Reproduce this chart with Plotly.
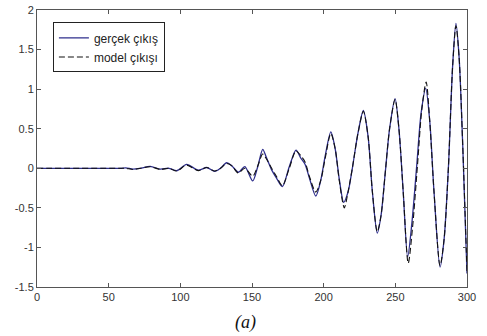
import plotly.graph_objects as go

# sample index (x) and outputs
x_real = [0, 58, 62, 67, 72, 79, 86, 92, 97.5, 104.4, 112.5, 118.4, 124, 128, 132.3, 136, 140.5, 145,
          150.5, 154, 157.5, 160, 163.7, 167, 171.2, 176, 180.7, 184, 187, 190, 194.5, 198, 201, 205,
          208, 211, 214, 217, 220, 224, 227.7, 231, 234, 237.4, 240, 243, 246, 249.8, 252.5, 255.5,
          258.6, 261.5, 265, 268, 271.2, 274, 277, 281.2, 284, 287, 290, 292.3, 294.5, 297, 300]
y_real = [0, 0, 0.005, -0.01, 0.0, 0.025, -0.01, 0.0, -0.03, 0.05, -0.025, 0.01, -0.04, 0.0, 0.07, 0.03, -0.05, 0.02,
          -0.16, 0.02, 0.24, 0.14, -0.02, -0.12, -0.23, 0.02, 0.23, 0.13, 0.05, -0.12, -0.35, -0.15, 0.15, 0.46,
          0.25, -0.15, -0.43, -0.3, 0.0, 0.45, 0.73, 0.4, -0.3, -0.82, -0.6, -0.05, 0.5, 0.88, 0.5, -0.3,
          -1.12, -0.7, 0.05, 0.7, 1.01, 0.6, -0.3, -1.25, -0.9, 0.0, 1.3, 1.83, 1.4, 0.3, -1.33]

x_model = [0, 58, 62, 67, 72, 79, 86, 92, 97.5, 104.4, 112.5, 118.4, 124, 128, 132.3, 136, 140.5, 145,
           150.5, 154, 157.5, 160, 163.7, 167, 171.2, 176, 180.7, 184, 187, 190, 194.5, 198, 201, 205,
           208, 211, 214.4, 217, 220, 224, 227.7, 231, 234, 237.4, 240, 243, 246, 249.8, 252.5, 255.5,
           259, 262, 265.5, 268.5, 271.5, 274, 277, 281.2, 284, 287, 290, 292.3, 294.5, 297, 300]
y_model = [0, 0, 0.0, -0.015, 0.0, 0.02, -0.015, 0.0, -0.035, 0.04, -0.03, 0.01, -0.035, 0.0, 0.06, 0.03, -0.06, 0.0,
           -0.1, 0.03, 0.18, 0.12, 0.0, -0.1, -0.22, 0.0, 0.22, 0.16, 0.08, -0.1, -0.3, -0.15, 0.12, 0.44,
           0.25, -0.17, -0.5, -0.3, 0.0, 0.45, 0.72, 0.4, -0.3, -0.8, -0.6, -0.05, 0.5, 0.87, 0.5, -0.3,
           -1.2, -0.75, 0.05, 0.75, 1.09, 0.6, -0.3, -1.23, -0.9, 0.0, 1.3, 1.8, 1.4, 0.3, -1.3]

x_ticks = [0, 50, 100, 150, 200, 250, 300]
y_ticks = [-1.5, -1, -0.5, 0, 0.5, 1, 1.5, 2]

fig = go.Figure()
fig.add_trace(go.Scatter(x=x_real, y=y_real, mode="lines", name="gerçek çıkış",
                         line=dict(color="#2e2e8c", width=1.3, shape="spline", smoothing=0.8)))
fig.add_trace(go.Scatter(x=x_model, y=y_model, mode="lines", name="model çıkışı",
                         line=dict(color="#111111", width=1.1, dash="6px,3px", shape="spline", smoothing=0.8)))

axis_common = dict(showline=True, linecolor="#555555", linewidth=1, mirror="ticks",
                   ticks="inside", ticklen=4, tickcolor="#555555", showgrid=False, zeroline=False,
                   automargin=False,
                   tickfont=dict(family="Liberation Sans, Arial", size=11, color="#333333"))

fig.update_xaxes(range=[0, 300], tickvals=x_ticks, ticktext=[str(v) for v in x_ticks],
                 ticklabelstandoff=0, **axis_common)
fig.update_yaxes(range=[-1.5, 2], tickvals=y_ticks, ticktext=[("%g" % v) for v in y_ticks],
                 ticklabelstandoff=0, **axis_common)

fig.add_annotation(text="<i>(a)</i>", xref="paper", yref="paper", x=0.484, y=-0.085,
                   xanchor="center", yanchor="top", showarrow=False, borderpad=0,
                   font=dict(family="Liberation Serif, Times New Roman", size=18, color="#111111"))

fig.update_layout(
    width=487, height=336,
    margin=dict(l=37, r=20, t=10, b=49, autoexpand=False),
    paper_bgcolor="white", plot_bgcolor="white",
    legend=dict(x=0.037, y=0.955, xanchor="left", yanchor="top",
                bordercolor="#222222", borderwidth=1, bgcolor="white",
                font=dict(family="Liberation Sans, Arial", size=12, color="#222222"),
                tracegroupgap=0, itemwidth=30),
    showlegend=True,
)

fig.write_html("out.html", config={"displayModeBar": False},
               post_script="document.body.style.margin='0';document.body.style.overflow='hidden';")
